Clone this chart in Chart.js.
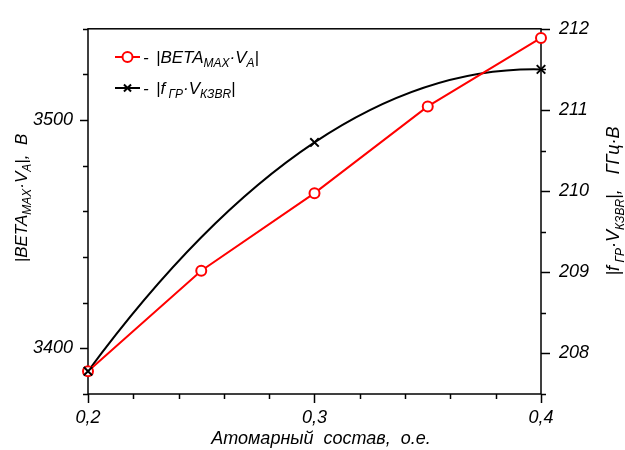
<!DOCTYPE html>
<html>
<head>
<meta charset="utf-8">
<script src="https://cdn.jsdelivr.net/npm/chart.js@4.4.1/dist/chart.umd.min.js"></script>
<style>
	body {margin: 0; background: #ffffff;}
	#wrap {width: 625px; height: 450px;}
</style>
</head>
<body>
<div id="wrap"><canvas id="chart" width="625" height="450"></canvas></div>
<script>
var xValues = [0.2, 0.25, 0.3, 0.35, 0.4];
var betaValues = [3390, 3434, 3468, 3506, 3536];

var crossXValues = [0.2, 0.3, 0.4];
var crossValues = [207.78, 210.6, 211.5];

var xTickLabels = [0.2, 0.3, 0.4];
var leftTickLabels = [3400, 3500];
var rightTickLabels = [208, 209, 210, 211, 212];

var fontFamily = '"Liberation Sans", Arial, sans-serif';

function isLabel(list, value)
{
	for (var i = 0; i < list.length; i++)
	{
		if (Math.abs(list[i] - value) < 1e-6) {return true}
	}
	return false;
}

function commaLabel(value)
{
	return String(value).replace('.', ',');
}

// text with subscripts: parts = [[text, isSub], ...]
function richWidth(ctx, parts, size)
{
	var width = 0;
	parts.forEach(function (part)
	{
		ctx.font = 'italic ' + (part[1] ? Math.round(size * 0.68) : size) + 'px ' + fontFamily;
		width += ctx.measureText(part[0]).width;
	});
	return width;
}

function richDraw(ctx, parts, x, y, size)
{
	parts.forEach(function (part)
	{
		ctx.font = 'italic ' + (part[1] ? Math.round(size * 0.68) : size) + 'px ' + fontFamily;
		ctx.fillText(part[0], x, part[1] ? y + size * 0.25 : y);
		x += ctx.measureText(part[0]).width;
	});
}

var betaText = [['|BETA', false], ['MAX', true], ['·V', false], ['A', true], ['|', false]];
var crossText = [['|f', false], [' ГР', true], ['·V', false], ['КЗВR', true], ['|', false]];

// smooth line through the black points (parabola through three pixel points)
var curvePlugin =
{
	id: 'curve',
	beforeDatasetsDraw: function (chart)
	{
		var pts = chart.getDatasetMeta(1).data;
		if (pts.length != 3) {return}

		var p0 = pts[0], p1 = pts[1], p2 = pts[2];
		var f01 = (p1.y - p0.y) / (p1.x - p0.x);
		var f12 = (p2.y - p1.y) / (p2.x - p1.x);
		var f012 = (f12 - f01) / (p2.x - p0.x);
		var slope = function (x) {return f01 + f012 * (2 * x - p0.x - p1.x)};

		var ctx = chart.ctx;
		ctx.save();
		ctx.strokeStyle = '#000000';
		ctx.lineWidth = 2;
		ctx.beginPath();
		ctx.moveTo(p0.x, p0.y);
		[[p0, p1], [p1, p2]].forEach(function (seg)
		{
			var a = seg[0], b = seg[1];
			var dx = b.x - a.x;
			ctx.quadraticCurveTo(a.x + dx / 2, a.y + slope(a.x) * dx / 2, b.x, b.y);
		});
		ctx.stroke();
		ctx.restore();
	}
};

var decorPlugin =
{
	id: 'decor',
	beforeDatasetsDraw: function (chart)
	{
		var ctx = chart.ctx;
		var area = chart.chartArea;

		ctx.save();
		ctx.strokeStyle = '#000000';
		ctx.lineWidth = 1.5;
		ctx.strokeRect(area.left, area.top, area.right - area.left, area.bottom - area.top);

		var drawTicks = function (scale, labels, side, majorLen, minorLen)
		{
			scale.ticks.forEach(function (tick)
			{
				var p = Math.round(scale.getPixelForValue(tick.value)) + 0.5;
				var len = isLabel(labels, tick.value) ? majorLen : minorLen;
				ctx.beginPath();
				if (side == 'left') {ctx.moveTo(area.left, p); ctx.lineTo(area.left - len, p)}
				if (side == 'right') {ctx.moveTo(area.right, p); ctx.lineTo(area.right + len, p)}
				if (side == 'bottom') {ctx.moveTo(p, area.bottom); ctx.lineTo(p, area.bottom + len)}
				ctx.stroke();
			});
		};

		drawTicks(chart.scales.x, xTickLabels, 'bottom', 9, 5);
		drawTicks(chart.scales.y, leftTickLabels, 'left', 8, 5);
		drawTicks(chart.scales.y1, rightTickLabels, 'right', 9, 5);
		ctx.restore();
	},
	afterDraw: function (chart)
	{
		var ctx = chart.ctx;
		var size = 17;

		ctx.save();
		ctx.fillStyle = '#000000';
		ctx.textBaseline = 'alphabetic';

		// axis titles
		ctx.font = 'italic 18px ' + fontFamily;
		ctx.textAlign = 'center';
		ctx.fillText('Атомарный  состав,  о.е.', 321, 444);
		ctx.textAlign = 'left';

		var leftTitle = betaText.concat([[',  В', false]]);
		var w = richWidth(ctx, leftTitle, size);
		ctx.save();
		ctx.translate(27, 198);
		ctx.rotate(-Math.PI / 2);
		richDraw(ctx, leftTitle, -w / 2, 0, size);
		ctx.restore();

		var rightTitle = crossText.concat([[',   ГГц·В', false]]);
		w = richWidth(ctx, rightTitle, 18);
		ctx.save();
		ctx.translate(619, 201);
		ctx.rotate(-Math.PI / 2);
		richDraw(ctx, rightTitle, -w / 2, 0, 18);
		ctx.restore();

		// legend
		var rows =
		[
			{y: 57, color: '#ff0000', style: 'circle', text: betaText},
			{y: 88, color: '#000000', style: 'crossRot', text: crossText}
		];

		rows.forEach(function (row)
		{
			ctx.strokeStyle = row.color;
			ctx.lineWidth = 2;
			ctx.beginPath();
			ctx.moveTo(115, row.y);
			ctx.lineTo(140, row.y);
			ctx.stroke();

			ctx.fillStyle = '#ffffff';
			Chart.helpers.drawPoint(ctx, {pointStyle: row.style, radius: 5, borderWidth: 2, rotation: 0}, 127.5, row.y);

			ctx.fillStyle = '#000000';
			ctx.font = 'italic ' + size + 'px ' + fontFamily;
			ctx.fillText('-', 143, row.y + 6);
			richDraw(ctx, row.text, 156, row.y + 6, size);
		});

		ctx.restore();
	}
};

var tickFont = {family: fontFamily, size: 18, style: 'italic'};

new Chart(document.getElementById('chart'),
{
	type: 'line',
	data:
	{
		datasets:
		[
			{
				label: 'BETA',
				data: xValues.map(function (x, i) {return {x: x, y: betaValues[i]}}),
				yAxisID: 'y',
				borderColor: '#ff0000',
				borderWidth: 2,
				tension: 0,
				pointStyle: 'circle',
				pointRadius: 5,
				pointBorderWidth: 2,
				pointBackgroundColor: '#ffffff',
				pointBorderColor: '#ff0000',
				clip: false,
				order: 1
			},
			{
				label: 'f',
				data: crossXValues.map(function (x, i) {return {x: x, y: crossValues[i]}}),
				yAxisID: 'y1',
				showLine: false,
				borderColor: '#000000',
				pointStyle: 'crossRot',
				pointRadius: 6,
				pointBorderWidth: 2,
				pointBorderColor: '#000000',
				clip: false,
				order: 0
			}
		]
	},
	options:
	{
		responsive: false,
		animation: false,
		layout: {padding: {top: 19, left: 0, right: 0, bottom: 0}},
		plugins:
		{
			legend: {display: false},
			tooltip: {enabled: false}
		},
		scales:
		{
			x:
			{
				type: 'linear',
				min: 0.2,
				max: 0.4,
				grid: {display: false, drawTicks: false},
				border: {display: false},
				ticks:
				{
					stepSize: 0.02,
					autoSkip: false,
					maxRotation: 0,
					padding: 13,
					color: '#000000',
					font: tickFont,
					callback: function (value) {return isLabel(xTickLabels, value) ? commaLabel(Math.round(value * 10) / 10) : ''}
				},
				afterFit: function (scale) {scale.height = 56}
			},
			y:
			{
				type: 'linear',
				position: 'left',
				min: 3380,
				max: 3540,
				grid: {display: false, drawTicks: false},
				border: {display: false},
				ticks:
				{
					stepSize: 20,
					autoSkip: false,
					padding: 15,
					color: '#000000',
					font: tickFont,
					callback: function (value) {return isLabel(leftTickLabels, value) ? String(value) : ''}
				},
				afterFit: function (scale) {scale.width = 88}
			},
			y1:
			{
				type: 'linear',
				position: 'right',
				min: 207.5,
				max: 212,
				grid: {display: false, drawTicks: false},
				border: {display: false},
				ticks:
				{
					stepSize: 0.5,
					autoSkip: false,
					padding: 18,
					color: '#000000',
					font: tickFont,
					callback: function (value) {return isLabel(rightTickLabels, value) ? String(value) : ''}
				},
				afterFit: function (scale) {scale.width = 84}
			}
		}
	},
	plugins: [decorPlugin, curvePlugin]
});
</script>
</body>
</html>
